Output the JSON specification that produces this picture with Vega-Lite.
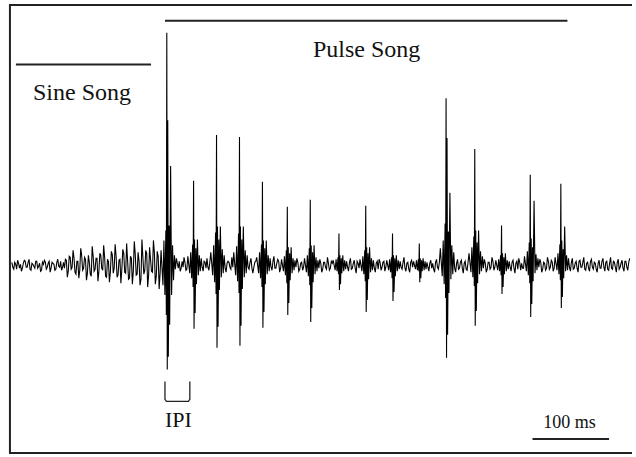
{
  "$schema": "https://vega.github.io/schema/vega-lite/v6.json",
  "width": 636,
  "height": 457,
  "autosize": {"type": "fit", "contains": "padding"},
  "padding": 0,
  "background": "white",
  "config": {"view": {"stroke": null}},
  "datasets": {
    "wave": [
      {"t":2.5,"a":3},{"t":5,"a":-4},{"t":7.5,"a":1},{"t":10,"a":5},{"t":12.5,"a":-3},{"t":15,"a":-6},{"t":17.5,"a":2},{"t":20,"a":4},{"t":22.5,"a":-2},{"t":25,"a":6},{"t":27.5,"a":-5},{"t":30,"a":1},{"t":32.5,"a":-3},{"t":35,"a":4},{"t":37.5,"a":-1},{"t":40,"a":-6},{"t":42.5,"a":3},{"t":45,"a":5},{"t":47.5,"a":-4},{"t":50,"a":2},{"t":52.5,"a":-7},{"t":55,"a":3},{"t":57.5,"a":1},{"t":60,"a":-4},{"t":62.5,"a":6},{"t":65,"a":-2},{"t":67.5,"a":-5},{"t":70,"a":3},
      {"t":72.5,"a":6},{"t":75,"a":-12},{"t":77.5,"a":9},{"t":80,"a":-4},{"t":82.5,"a":15},{"t":85,"a":-7},{"t":87.5,"a":4},{"t":90,"a":-13},{"t":92.5,"a":17},{"t":95,"a":-5},{"t":97.5,"a":8},{"t":100,"a":-15},{"t":102.5,"a":10},{"t":105,"a":-9},{"t":107.5,"a":19},{"t":110,"a":-6},{"t":112.5,"a":7},{"t":115,"a":-16},{"t":117.5,"a":12},{"t":120,"a":-3},{"t":122.5,"a":20},{"t":125,"a":-11},{"t":127.5,"a":6},{"t":130,"a":-17},{"t":132.5,"a":14},{"t":135,"a":-8},{"t":137.5,"a":21},{"t":140,"a":-12},{"t":142.5,"a":5},{"t":145,"a":-18},{"t":147.5,"a":16},{"t":150,"a":-7},{"t":152.5,"a":22},{"t":155,"a":-14},{"t":157.5,"a":9},{"t":160,"a":-19},{"t":162.5,"a":24},{"t":165,"a":-10},{"t":167.5,"a":13},{"t":170,"a":-20},{"t":172.5,"a":26},{"t":175,"a":-9},{"t":177.5,"a":15},{"t":180,"a":-22},{"t":182.5,"a":18},{"t":185,"a":-6},{"t":187.5,"a":25},{"t":190,"a":-19},{"t":192.5,"a":14},{"t":195,"a":-24},
      {"t":197.5,"a":15},{"t":200,"a":-20},{"t":201.25,"a":25},{"t":202.5,"a":-30},{"t":203.75,"a":35},{"t":204.4,"a":-50},{"t":205,"a":234},{"t":205.6,"a":-105},{"t":206.25,"a":146},{"t":207,"a":-92},{"t":208,"a":40},{"t":208.75,"a":-60},{"t":210,"a":100},{"t":211.25,"a":-30},{"t":212.5,"a":20},{"t":213.75,"a":-15},{"t":215,"a":10},
      {"t":217.5,"a":7},{"t":220,"a":-3},{"t":222.5,"a":-6},{"t":225,"a":4},{"t":227.5,"a":8},{"t":230,"a":-5},
      {"t":232.5,"a":9},{"t":235,"a":-8},{"t":236.25,"a":13},{"t":237.5,"a":-13},{"t":238.75,"a":21},{"t":239.375,"a":-22},{"t":240,"a":85},{"t":240.625,"a":-64},{"t":241.25,"a":26},{"t":242,"a":-48},{"t":243,"a":17},{"t":243.75,"a":-19},{"t":245,"a":26},{"t":246.25,"a":-10},{"t":247.5,"a":10},{"t":248.75,"a":-6},{"t":250,"a":7},
      {"t":252.5,"a":-6},{"t":255,"a":3},{"t":257.5,"a":7},{"t":260,"a":-5},
      {"t":262.5,"a":13},{"t":265,"a":-10},{"t":266.25,"a":20},{"t":267.5,"a":-17},{"t":268.75,"a":33},{"t":269.375,"a":-29},{"t":270,"a":131},{"t":270.625,"a":-83},{"t":271.25,"a":39},{"t":272,"a":-62},{"t":273,"a":26},{"t":273.75,"a":-25},{"t":275,"a":39},{"t":276.25,"a":-12},{"t":277.5,"a":16},{"t":278.75,"a":-8},{"t":280,"a":10},
      {"t":282.5,"a":-7},{"t":285,"a":4},{"t":287.5,"a":-2},{"t":290,"a":8},
      {"t":292.5,"a":13},{"t":295,"a":-10},{"t":296.25,"a":19},{"t":297.5,"a":-16},{"t":298.75,"a":32},{"t":299.375,"a":-28},{"t":300,"a":129},{"t":300.625,"a":-81},{"t":301.25,"a":39},{"t":302,"a":-61},{"t":303,"a":26},{"t":303.75,"a":-24},{"t":305,"a":39},{"t":306.25,"a":-12},{"t":307.5,"a":15},{"t":308.75,"a":-8},{"t":310,"a":10},
      {"t":312.5,"a":-4},{"t":315,"a":7},{"t":317.5,"a":-8},{"t":320,"a":3},
      {"t":322.5,"a":8},{"t":325,"a":-8},{"t":326.25,"a":13},{"t":327.5,"a":-13},{"t":328.75,"a":21},{"t":329.375,"a":-22},{"t":330,"a":84},{"t":330.625,"a":-63},{"t":331.25,"a":25},{"t":332,"a":-47},{"t":333,"a":17},{"t":333.75,"a":-19},{"t":335,"a":25},{"t":336.25,"a":-9},{"t":337.5,"a":10},{"t":338.75,"a":-6},{"t":340,"a":7},
      {"t":342.5,"a":-5},{"t":345,"a":9},{"t":347.5,"a":-3},{"t":350,"a":6},{"t":352.5,"a":-7},
      {"t":355,"a":6},{"t":357.5,"a":-6},{"t":358.75,"a":9},{"t":360,"a":-10},{"t":361.25,"a":15},{"t":361.875,"a":-18},{"t":362.5,"a":59},{"t":363.125,"a":-50},{"t":363.75,"a":18},{"t":364.5,"a":-38},{"t":365.5,"a":12},{"t":366.25,"a":-15},{"t":367.5,"a":18},{"t":368.75,"a":-8},{"t":370,"a":7},{"t":371.25,"a":-5},{"t":372.5,"a":5},
      {"t":375,"a":7},{"t":377.5,"a":-6},{"t":380,"a":2},{"t":382.5,"a":-5},
      {"t":385,"a":7},{"t":387.5,"a":-7},{"t":388.75,"a":10},{"t":390,"a":-11},{"t":391.25,"a":17},{"t":391.875,"a":-20},{"t":392.5,"a":66},{"t":393.125,"a":-57},{"t":393.75,"a":20},{"t":394.5,"a":-43},{"t":395.5,"a":13},{"t":396.25,"a":-17},{"t":397.5,"a":20},{"t":398.75,"a":-9},{"t":400,"a":8},{"t":401.25,"a":-6},{"t":402.5,"a":5},
      {"t":405,"a":6},{"t":407.5,"a":-7},{"t":410,"a":3},{"t":412.5,"a":-2},{"t":415,"a":8},{"t":417.5,"a":-5},{"t":420,"a":4},
      {"t":422.5,"a":5},{"t":425,"a":-5},{"t":426.25,"a":6},{"t":427.5,"a":-6},{"t":428.75,"a":8},{"t":429.375,"a":-9},{"t":430,"a":32},{"t":430.625,"a":-25},{"t":431.25,"a":10},{"t":432,"a":-19},{"t":433,"a":7},{"t":433.75,"a":-8},{"t":435,"a":10},{"t":436.25,"a":-6},{"t":437.5,"a":5},{"t":438.75,"a":-4},{"t":440,"a":4},
      {"t":442.5,"a":-6},{"t":445,"a":7},{"t":447.5,"a":-3},{"t":450,"a":5},{"t":452.5,"a":-8},{"t":455,"a":2},
      {"t":457.5,"a":6},{"t":460,"a":-6},{"t":461.25,"a":9},{"t":462.5,"a":-9},{"t":463.75,"a":15},{"t":464.375,"a":-16},{"t":465,"a":60},{"t":465.625,"a":-47},{"t":466.25,"a":18},{"t":467,"a":-35},{"t":468,"a":12},{"t":468.75,"a":-14},{"t":470,"a":18},{"t":471.25,"a":-7},{"t":472.5,"a":7},{"t":473.75,"a":-5},{"t":475,"a":5},
      {"t":477.5,"a":-7},{"t":480,"a":4},{"t":482.5,"a":6},{"t":485,"a":-5},{"t":487.5,"a":3},{"t":490,"a":-6},
      {"t":492.5,"a":5},{"t":495,"a":-5},{"t":496.25,"a":6},{"t":497.5,"a":-7},{"t":498.75,"a":8},{"t":499.375,"a":-13},{"t":500,"a":32},{"t":500.625,"a":-36},{"t":501.25,"a":10},{"t":502,"a":-27},{"t":503,"a":7},{"t":503.75,"a":-11},{"t":505,"a":10},{"t":506.25,"a":-6},{"t":507.5,"a":5},{"t":508.75,"a":-4},{"t":510,"a":4},
      {"t":512.5,"a":-4},{"t":515,"a":8},{"t":517.5,"a":-6},{"t":520,"a":3},{"t":522.5,"a":-7},{"t":525,"a":5},
      {"t":527.5,"a":4},{"t":530,"a":-4},{"t":531.25,"a":5},{"t":532.5,"a":-5},{"t":533.75,"a":6},{"t":534.375,"a":-6},{"t":535,"a":22},{"t":535.625,"a":-17},{"t":536.25,"a":7},{"t":537,"a":-13},{"t":538,"a":5},{"t":538.75,"a":-6},{"t":540,"a":7},{"t":541.25,"a":-5},{"t":542.5,"a":4},{"t":543.75,"a":-4},{"t":545,"a":3},
      {"t":547.5,"a":-6},{"t":550,"a":5},{"t":552.5,"a":2},{"t":555,"a":-7},{"t":557.5,"a":6},{"t":560,"a":-4},
      {"t":562.5,"a":17},{"t":565,"a":-11},{"t":566.25,"a":25},{"t":567.5,"a":-19},{"t":568.75,"a":42},{"t":569.375,"a":-33},{"t":570,"a":168},{"t":570.625,"a":-93},{"t":571.25,"a":128},{"t":572,"a":-70},{"t":573,"a":34},{"t":573.75,"a":-28},{"t":575,"a":73},{"t":576.25,"a":-14},{"t":577.5,"a":20},{"t":578.75,"a":-9},{"t":580,"a":13},
      {"t":582.5,"a":-7},{"t":585,"a":6},{"t":587.5,"a":-3},{"t":590,"a":5},{"t":592.5,"a":-8},{"t":595,"a":4},{"t":597.5,"a":-5},
      {"t":600,"a":12},{"t":602.5,"a":-7},{"t":603.75,"a":18},{"t":605,"a":-12},{"t":606.25,"a":29},{"t":606.875,"a":-21},{"t":607.5,"a":117},{"t":608.125,"a":-61},{"t":608.75,"a":35},{"t":609.5,"a":-46},{"t":610.5,"a":23},{"t":611.25,"a":-18},{"t":612.5,"a":35},{"t":613.75,"a":-9},{"t":615,"a":14},{"t":616.25,"a":-6},{"t":617.5,"a":9},
      {"t":620,"a":6},{"t":622.5,"a":-7},{"t":625,"a":3},{"t":627.5,"a":-4},{"t":630,"a":8},{"t":632.5,"a":-5},
      {"t":635,"a":5},{"t":637.5,"a":-5},{"t":638.75,"a":6},{"t":640,"a":-6},{"t":641.25,"a":10},{"t":641.875,"a":-10},{"t":642.5,"a":40},{"t":643.125,"a":-29},{"t":643.75,"a":12},{"t":644.5,"a":-22},{"t":645.5,"a":8},{"t":646.25,"a":-9},{"t":647.5,"a":12},{"t":648.75,"a":-6},{"t":650,"a":5},{"t":651.25,"a":-4},{"t":652.5,"a":4},
      {"t":655,"a":-6},{"t":657.5,"a":5},{"t":660,"a":-8},{"t":662.5,"a":4},{"t":665,"a":7},{"t":667.5,"a":-5},{"t":670,"a":-3},
      {"t":672.5,"a":9},{"t":675,"a":-6},{"t":676.25,"a":14},{"t":677.5,"a":-10},{"t":678.75,"a":23},{"t":679.375,"a":-18},{"t":680,"a":91},{"t":680.625,"a":-52},{"t":681.25,"a":27},{"t":682,"a":-39},{"t":683,"a":18},{"t":683.75,"a":-16},{"t":685,"a":65},{"t":686.25,"a":-8},{"t":687.5,"a":11},{"t":688.75,"a":-5},{"t":690,"a":7},
      {"t":692.5,"a":6},{"t":695,"a":-7},{"t":697.5,"a":3},{"t":700,"a":-5},{"t":702.5,"a":8},{"t":705,"a":-4},{"t":707.5,"a":5},{"t":710,"a":-6},
      {"t":712.5,"a":8},{"t":715,"a":-5},{"t":716.25,"a":12},{"t":717.5,"a":-9},{"t":718.75,"a":21},{"t":719.375,"a":-15},{"t":720,"a":82},{"t":720.625,"a":-43},{"t":721.25,"a":25},{"t":722,"a":-32},{"t":723,"a":16},{"t":723.75,"a":-13},{"t":725,"a":39},{"t":726.25,"a":-6},{"t":727.5,"a":10},{"t":728.75,"a":-5},{"t":730,"a":7},
      {"t":732.5,"a":-6},{"t":735,"a":7},{"t":737.5,"a":-3},{"t":740,"a":4},{"t":742.5,"a":-7},{"t":745,"a":5},{"t":747.5,"a":-2},{"t":750,"a":8},{"t":752.5,"a":-5},{"t":755,"a":3},{"t":757.5,"a":-6},{"t":760,"a":6},{"t":762.5,"a":-4},{"t":765,"a":2},{"t":767.5,"a":-7},{"t":770,"a":5},{"t":772.5,"a":-3},{"t":775,"a":7},{"t":777.5,"a":-6},{"t":780,"a":4},{"t":782.5,"a":-5},{"t":785,"a":8},{"t":787.5,"a":-4},{"t":790,"a":3},{"t":792.5,"a":-7},{"t":795,"a":6},{"t":797.5,"a":-2},{"t":800,"a":5},{"t":802.5,"a":-6},{"t":805,"a":4},{"t":807.5,"a":-5},{"t":810,"a":7},
      {"t":3.75,"a":-2},{"t":6.25,"a":3},{"t":8.75,"a":-4},{"t":11.25,"a":2},{"t":13.75,"a":1},{"t":16.25,"a":-3},{"t":18.75,"a":5},{"t":21.25,"a":-2},{"t":23.75,"a":3},{"t":26.25,"a":-4},{"t":28.75,"a":2},{"t":31.25,"a":-1},{"t":33.75,"a":4},{"t":36.25,"a":-3},{"t":38.75,"a":2},{"t":41.25,"a":-5},{"t":43.75,"a":1},{"t":46.25,"a":3},{"t":48.75,"a":-2},{"t":51.25,"a":4},{"t":53.75,"a":-3},{"t":56.25,"a":2},{"t":58.75,"a":-5},{"t":61.25,"a":3},{"t":63.75,"a":-1},{"t":66.25,"a":4},{"t":68.75,"a":-2},
      {"t":71.25,"a":-3},{"t":73.75,"a":5},{"t":76.25,"a":-6},{"t":78.75,"a":8},{"t":81.25,"a":-2},{"t":83.75,"a":7},{"t":86.25,"a":-9},{"t":88.75,"a":4},{"t":91.25,"a":-5},{"t":93.75,"a":10},{"t":96.25,"a":-3},{"t":98.75,"a":6},{"t":101.25,"a":-8},{"t":103.75,"a":3},{"t":106.25,"a":-11},{"t":108.75,"a":9},{"t":111.25,"a":-4},{"t":113.75,"a":7},{"t":116.25,"a":-6},{"t":118.75,"a":10},{"t":121.25,"a":-5},{"t":123.75,"a":8},{"t":126.25,"a":-12},{"t":128.75,"a":4},{"t":131.25,"a":-7},{"t":133.75,"a":11},{"t":136.25,"a":-3},{"t":138.75,"a":9},{"t":141.25,"a":-10},{"t":143.75,"a":6},{"t":146.25,"a":-4},{"t":148.75,"a":12},{"t":151.25,"a":-8},{"t":153.75,"a":5},{"t":156.25,"a":-13},{"t":158.75,"a":7},{"t":161.25,"a":-6},{"t":163.75,"a":11},{"t":166.25,"a":-9},{"t":168.75,"a":4},{"t":171.25,"a":-14},{"t":173.75,"a":8},{"t":176.25,"a":-5},{"t":178.75,"a":12},{"t":181.25,"a":-10},{"t":183.75,"a":6},{"t":186.25,"a":-7},{"t":188.75,"a":13},{"t":191.25,"a":-11},{"t":193.75,"a":9},{"t":196.25,"a":-8},
      {"t":216.25,"a":-4},{"t":218.75,"a":2},{"t":221.25,"a":4},{"t":223.75,"a":-3},{"t":226.25,"a":-2},{"t":228.75,"a":3},{"t":231.25,"a":-4},
      {"t":251.25,"a":-2},{"t":253.75,"a":4},{"t":256.25,"a":-3},{"t":258.75,"a":-2},{"t":261.25,"a":3},
      {"t":281.25,"a":-3},{"t":283.75,"a":2},{"t":286.25,"a":3},{"t":288.75,"a":-4},{"t":291.25,"a":-2},
      {"t":311.25,"a":-2},{"t":313.75,"a":3},{"t":316.25,"a":-3},{"t":318.75,"a":-2},{"t":321.25,"a":4},
      {"t":341.25,"a":-2},{"t":343.75,"a":4},{"t":346.25,"a":-3},{"t":348.75,"a":2},{"t":351.25,"a":4},{"t":353.75,"a":-3},
      {"t":373.75,"a":-2},{"t":376.25,"a":3},{"t":378.75,"a":-4},{"t":381.25,"a":3},{"t":383.75,"a":-2},
      {"t":403.75,"a":-3},{"t":406.25,"a":2},{"t":408.75,"a":-4},{"t":411.25,"a":3},{"t":413.75,"a":-4},{"t":416.25,"a":2},{"t":418.75,"a":-3},{"t":421.25,"a":2},
      {"t":441.25,"a":-2},{"t":443.75,"a":3},{"t":446.25,"a":-4},{"t":448.75,"a":2},{"t":451.25,"a":-3},{"t":453.75,"a":4},{"t":456.25,"a":-3},
      {"t":476.25,"a":-3},{"t":478.75,"a":2},{"t":481.25,"a":-4},{"t":483.75,"a":3},{"t":486.25,"a":-2},{"t":488.75,"a":4},{"t":491.25,"a":-2},
      {"t":511.25,"a":-2},{"t":513.75,"a":3},{"t":516.25,"a":-3},{"t":518.75,"a":2},{"t":521.25,"a":-4},{"t":523.75,"a":3},{"t":526.25,"a":-2},
      {"t":546.25,"a":-2},{"t":548.75,"a":2},{"t":551.25,"a":-3},{"t":553.75,"a":-4},{"t":556.25,"a":3},{"t":558.75,"a":-2},{"t":561.25,"a":3},
      {"t":581.25,"a":-3},{"t":583.75,"a":2},{"t":586.25,"a":-4},{"t":588.75,"a":3},{"t":591.25,"a":-3},{"t":593.75,"a":2},{"t":596.25,"a":-4},{"t":598.75,"a":3},
      {"t":618.75,"a":-3},{"t":621.25,"a":2},{"t":623.75,"a":-4},{"t":626.25,"a":3},{"t":628.75,"a":-2},{"t":631.25,"a":4},{"t":633.75,"a":-2},
      {"t":653.75,"a":-2},{"t":656.25,"a":3},{"t":658.75,"a":-3},{"t":661.25,"a":2},{"t":663.75,"a":-4},{"t":666.25,"a":3},{"t":668.75,"a":2},{"t":671.25,"a":-3},
      {"t":691.25,"a":-2},{"t":693.75,"a":3},{"t":696.25,"a":-4},{"t":698.75,"a":2},{"t":701.25,"a":-3},{"t":703.75,"a":4},{"t":706.25,"a":-2},{"t":708.75,"a":3},{"t":711.25,"a":-3},
      {"t":731.25,"a":-2},{"t":733.75,"a":3},{"t":736.25,"a":-4},{"t":738.75,"a":2},{"t":741.25,"a":-3},{"t":743.75,"a":4},{"t":746.25,"a":-2},{"t":748.75,"a":3},{"t":751.25,"a":-4},{"t":753.75,"a":2},{"t":756.25,"a":-3},{"t":758.75,"a":4},{"t":761.25,"a":-2},{"t":763.75,"a":3},{"t":766.25,"a":-4},{"t":768.75,"a":2},{"t":771.25,"a":-3},{"t":773.75,"a":4},{"t":776.25,"a":-2},{"t":778.75,"a":3},{"t":781.25,"a":-4},{"t":783.75,"a":2},{"t":786.25,"a":-3},{"t":788.75,"a":4},{"t":791.25,"a":-2},{"t":793.75,"a":3},{"t":796.25,"a":-4},{"t":798.75,"a":2},{"t":801.25,"a":-3},{"t":803.75,"a":4},{"t":806.25,"a":-2},{"t":808.75,"a":3}
    ],
    "shapes": [
      {"g":"frame","o":1,"t":813,"a":262},{"g":"frame","o":2,"t":0,"a":262},{"g":"frame","o":3,"t":0,"a":-189},{"g":"frame","o":4,"t":813,"a":-189},
      {"g":"sine","o":1,"t":7.8,"a":202},{"g":"sine","o":2,"t":184.4,"a":202},
      {"g":"pulse","o":1,"t":202.6,"a":246},{"g":"pulse","o":2,"t":728.6,"a":246},
      {"g":"bar","o":1,"t":683,"a":-175},{"g":"bar","o":2,"t":783,"a":-175},
      {"g":"ipi","o":1,"t":202.6,"a":-117},{"g":"ipi","o":2,"t":202.6,"a":-135},{"g":"ipi","o":3,"t":204.5,"a":-137},{"g":"ipi","o":4,"t":233.2,"a":-137},{"g":"ipi","o":5,"t":235.1,"a":-135},{"g":"ipi","o":6,"t":235.1,"a":-117}
    ],
    "labels": [
      {"k":"big","label":"Sine Song","t":94.2,"a":166},
      {"k":"big","label":"Pulse Song","t":466.2,"a":210},
      {"k":"ipi","label":"IPI","t":220.1,"a":-163},
      {"k":"small","label":"100 ms","t":731.2,"a":-164}
    ]
  },
  "layer": [
    {
      "data": {"name": "wave"},
      "mark": {"type": "line", "color": "#000000", "strokeWidth": 1.1, "interpolate": "linear"},
      "encoding": {
        "x": {"field": "t", "type": "quantitative", "scale": {"domain": [-13, 813], "nice": false, "zero": false}, "axis": null},
        "y": {"field": "a", "type": "quantitative", "scale": {"domain": [-191, 266], "nice": false, "zero": false}, "axis": null}
      }
    },
    {
      "data": {"name": "shapes"},
      "transform": [{"filter": "datum.g != 'ipi'"}],
      "mark": {"type": "line", "color": "#222222", "strokeWidth": 2},
      "encoding": {
        "x": {"field": "t", "type": "quantitative"},
        "y": {"field": "a", "type": "quantitative"},
        "detail": {"field": "g"},
        "order": {"field": "o"}
      }
    },
    {
      "data": {"name": "shapes"},
      "transform": [{"filter": "datum.g == 'ipi'"}],
      "mark": {"type": "line", "color": "#222222", "strokeWidth": 1.3},
      "encoding": {
        "x": {"field": "t", "type": "quantitative"},
        "y": {"field": "a", "type": "quantitative"},
        "order": {"field": "o"}
      }
    },
    {
      "data": {"name": "labels"},
      "transform": [{"filter": "datum.k == 'big'"}],
      "mark": {"type": "text", "font": "Liberation Serif", "fontSize": 24, "baseline": "alphabetic", "align": "center", "color": "#111111"},
      "encoding": {
        "x": {"field": "t", "type": "quantitative"},
        "y": {"field": "a", "type": "quantitative"},
        "text": {"field": "label"}
      }
    },
    {
      "data": {"name": "labels"},
      "transform": [{"filter": "datum.k == 'ipi'"}],
      "mark": {"type": "text", "font": "Liberation Serif", "fontSize": 22, "baseline": "alphabetic", "align": "center", "color": "#111111"},
      "encoding": {
        "x": {"field": "t", "type": "quantitative"},
        "y": {"field": "a", "type": "quantitative"},
        "text": {"field": "label"}
      }
    },
    {
      "data": {"name": "labels"},
      "transform": [{"filter": "datum.k == 'small'"}],
      "mark": {"type": "text", "font": "Liberation Serif", "fontSize": 18, "baseline": "alphabetic", "align": "center", "color": "#111111"},
      "encoding": {
        "x": {"field": "t", "type": "quantitative"},
        "y": {"field": "a", "type": "quantitative"},
        "text": {"field": "label"}
      }
    }
  ]
}
